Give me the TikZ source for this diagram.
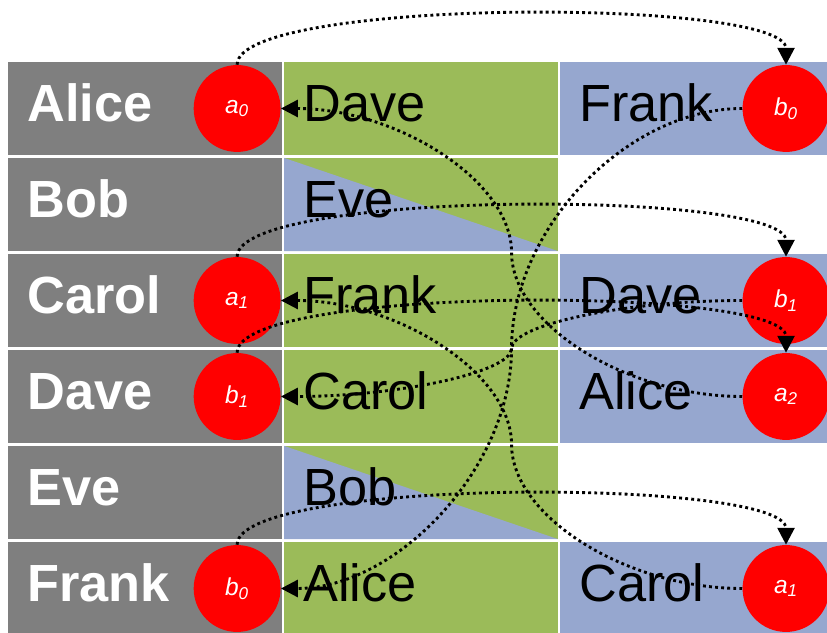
\documentclass[tikz,border=0pt]{standalone}
\usepackage{fontspec}
\setmainfont{Liberation Sans}
\usetikzlibrary{arrows.meta,calc}

\definecolor{cellgray}{HTML}{7F7F7F}
\definecolor{pickgreen}{HTML}{9BBB59}
\definecolor{backblue}{RGB}{150,167,207}

\tikzset{
  cell/.style={minimum width=5.7cm, minimum height=1.94cm, text width=4.9cm,
    inner xsep=.4cm, inner ysep=0pt, align=left, text height=26pt, text depth=11pt,
    font=\fontsize{31}{37}\selectfont},
  person/.style={cell, fill=cellgray, text=white, font=\fontsize{31}{37}\selectfont\bfseries},
  pick/.style={cell, fill=pickgreen},
  back/.style={cell, fill=backblue},
  split/.style={pick, path picture={\fill[backblue] (path picture bounding box.north west)
    -- (path picture bounding box.south west) -- (path picture bounding box.south east) -- cycle;}},
  token/.style={circle, fill=red, minimum size=1.81cm, inner sep=0pt, text=white,
    font=\fontsize{14.5}{17}\selectfont\itshape},
  link/.style={line width=1.7pt, dash pattern=on 1.7pt off 1.9pt,
    -{Triangle[length=10pt,width=10pt]}}
}

% s-shaped link from a right token back to a left token
\newcommand{\swing}[2]{%
  \draw[link] let \p1=(#1), \p2=(#2), \p3=($(\p1)!.5!(\p2)$) in
    (\p1) .. controls ({(\x1+\x3)/2},\y1) and (\x3,{(\y1+\y3)/2}) .. (\p3)
    .. controls (\x3,{(\y3+\y2)/2}) and ({(\x3+\x2)/2},\y2) .. (\p2);}

\begin{document}
\begin{tikzpicture}
\useasboundingbox (0,0) rectangle (17.229,-13.167);

\node[person] (alice) at (3.02,-2.26) {Alice};
\node[person] (bob) at (3.02,-4.26) {Bob};
\node[person] (carol) at (3.02,-6.26) {Carol};
\node[person] (dave) at (3.02,-8.26) {Dave};
\node[person] (eve) at (3.02,-10.26) {Eve};
\node[person] (frank) at (3.02,-12.26) {Frank};

\node[pick] (alicepick) at (8.77,-2.26) {Dave};
\node[split] (bobpick) at (8.77,-4.26) {Eve};
\node[pick] (carolpick) at (8.77,-6.26) {Frank};
\node[pick] (davepick) at (8.77,-8.26) {Carol};
\node[split] (evepick) at (8.77,-10.26) {Bob};
\node[pick] (frankpick) at (8.77,-12.26) {Alice};

\node[back] (aliceback) at (14.52,-2.26) {Frank};
\node[back] (carolback) at (14.52,-6.26) {Dave};
\node[back] (daveback) at (14.52,-8.26) {Alice};
\node[back] (frankback) at (14.52,-12.26) {Carol};

\node[token] (lc1) at (4.94,-2.26) {a\textsubscript{0}};
\node[token] (lc3) at (4.94,-6.26) {a\textsubscript{1}};
\node[token] (lc4) at (4.94,-8.26) {b\textsubscript{1}};
\node[token] (lc6) at (4.94,-12.26) {b\textsubscript{0}};

\node[token] (rc1) at (16.375,-2.26) {b\textsubscript{0}};
\node[token] (rc3) at (16.375,-6.26) {b\textsubscript{1}};
\node[token] (rc4) at (16.375,-8.26) {a\textsubscript{2}};
\node[token] (rc6) at (16.375,-12.26) {a\textsubscript{1}};

\draw[link] (lc1.north) .. controls +(0,1.4) and +(0,1.4) .. (rc1.north);
\draw[link] (lc3.north) .. controls +(0,1.4) and +(0,1.4) .. (rc3.north);
\draw[link] (lc4.north) .. controls +(0,1.4) and +(0,1.4) .. (rc4.north);
\draw[link] (lc6.north) .. controls +(0,1.4) and +(0,1.4) .. (rc6.north);

\swing{rc1.west}{lc6.east}
\swing{rc3.west}{lc4.east}
\swing{rc4.west}{lc1.east}
\swing{rc6.west}{lc3.east}
\end{tikzpicture}
\end{document}
